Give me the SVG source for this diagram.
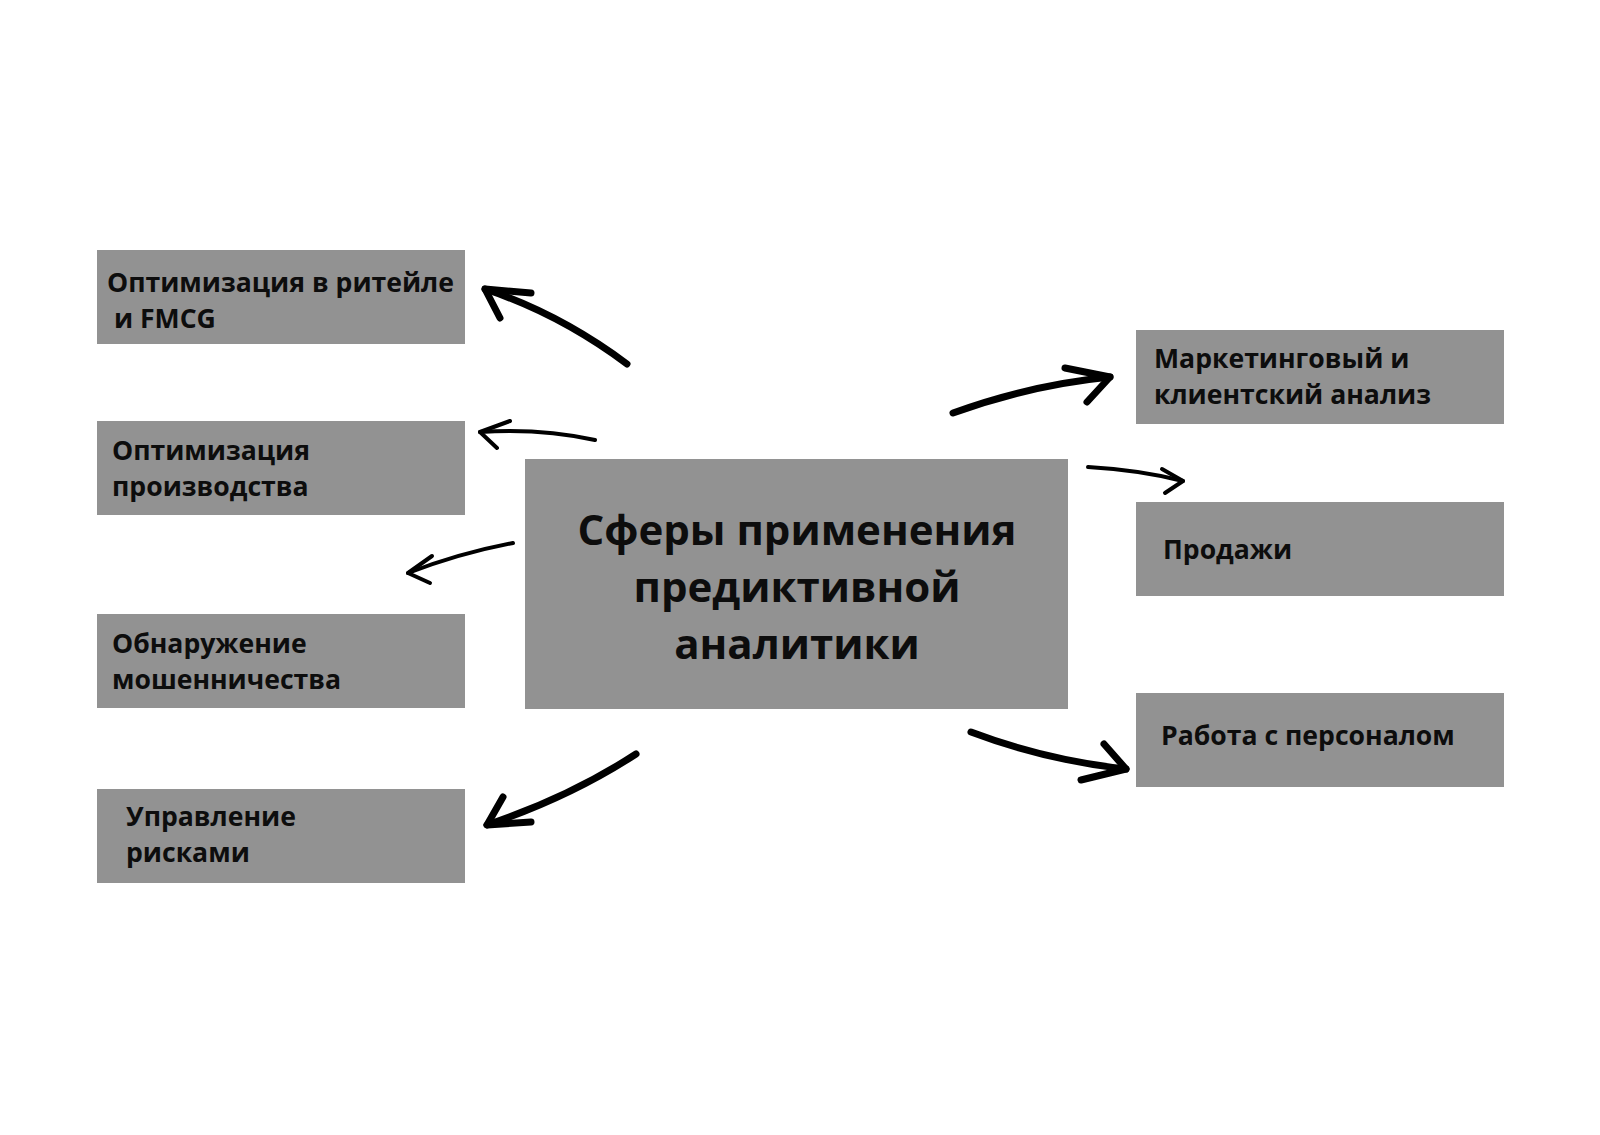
<svg xmlns="http://www.w3.org/2000/svg" width="1600" height="1135" viewBox="0 0 1600 1135">
<style>
.box{fill:#929292}
.t{font-family:"Open Sans","Noto Sans","DejaVu Sans",sans-serif;font-weight:700;font-size:26.6px;fill:#0d0d0d}
.title{font-family:"Open Sans","Noto Sans","DejaVu Sans",sans-serif;font-weight:700;font-size:42px;fill:#0d0d0d;text-anchor:middle}
.a{fill:none;stroke:#000;stroke-linecap:round;stroke-linejoin:round}
.thick{stroke-width:7}
.thin{stroke-width:4}
</style>
<rect width="1600" height="1135" fill="#fff"/>
<g id="center">
<rect class="box" x="525" y="459" width="543" height="250"/>
<text class="title" x="797" y="545">Сферы применения</text>
<text class="title" x="797" y="602">предиктивной</text>
<text class="title" x="797" y="659">аналитики</text>
</g>
<g id="retail">
<rect class="box" x="97" y="250" width="368" height="94"/>
<text class="t" x="107" y="292">Оптимизация в ритейле</text>
<text class="t" x="107" y="328" xml:space="preserve"> и FMCG</text>
</g>
<g id="production">
<rect class="box" x="97" y="421" width="368" height="94"/>
<text class="t" x="112" y="460">Оптимизация</text>
<text class="t" x="112" y="496">производства</text>
</g>
<g id="fraud">
<rect class="box" x="97" y="614" width="368" height="94"/>
<text class="t" x="112" y="653">Обнаружение</text>
<text class="t" x="112" y="689">мошенничества</text>
</g>
<g id="risk">
<rect class="box" x="97" y="789" width="368" height="94"/>
<text class="t" x="126" y="826">Управление</text>
<text class="t" x="126" y="862">рисками</text>
</g>
<g id="marketing">
<rect class="box" x="1136" y="330" width="368" height="94"/>
<text class="t" x="1154" y="368">Маркетинговый и</text>
<text class="t" x="1154" y="404">клиентский анализ</text>
</g>
<g id="sales">
<rect class="box" x="1136" y="502" width="368" height="94"/>
<text class="t" x="1163" y="559">Продажи</text>
</g>
<g id="hr">
<rect class="box" x="1136" y="693" width="368" height="94"/>
<text class="t" x="1161" y="745">Работа с персоналом</text>
</g>
<g id="connectors">
<path class="a thick" d="M627,364 Q560,314 485,289"/>
<path class="a thick" d="M531,293 L485,289 L500,318"/>
<path class="a thin" d="M595,440 Q540,428 480,432"/>
<path class="a thin" d="M510,421 L480,432 L497,448"/>
<path class="a thin" d="M513,543 Q460,553 408,573"/>
<path class="a thin" d="M432,556 L408,573 L430,583"/>
<path class="a thick" d="M636,754 Q570,797 487,825"/>
<path class="a thick" d="M503,797 L487,825 L531,822"/>
<path class="a thick" d="M953,413 Q1030,385 1110,377"/>
<path class="a thick" d="M1065,368 L1110,377 L1087,402"/>
<path class="a thin" d="M1088,467 Q1140,470 1183,481"/>
<path class="a thin" d="M1162,469 L1183,481 L1165,493"/>
<path class="a thick" d="M971,732 Q1045,760 1126,769"/>
<path class="a thick" d="M1104,744 L1126,769 L1081,780"/>
</g>
</svg>
